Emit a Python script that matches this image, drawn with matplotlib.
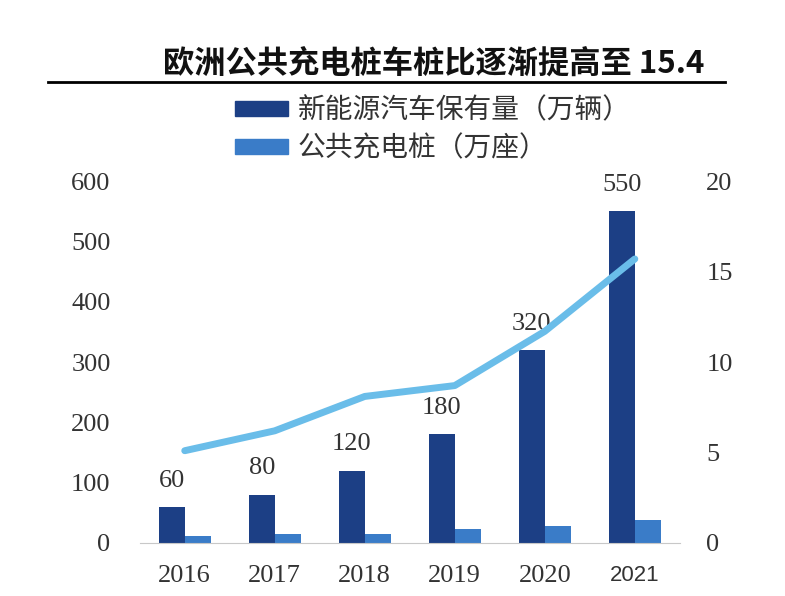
import matplotlib.pyplot as plt
from matplotlib.patches import Patch
from matplotlib.lines import Line2D
import numpy as np

# 数据
years = ['2016', '2017', '2018', '2019', '2020', '2021']
ev_stock = [60, 80, 120, 180, 320, 550]          # 新能源汽车保有量（万辆）
chargers = [12, 15, 15, 23, 28, 38]              # 公共充电桩（万座）
ratio = [5.1, 6.2, 8.1, 8.7, 11.7, 15.7]         # 车桩比

dark = '#1c3f85'
light = '#3a7cc8'
line_c = '#6abde9'
txt_c = '#333333'
serif = ['Liberation Serif', 'DejaVu Serif']
cjk = ['Noto Sans CJK SC', 'DejaVu Sans']

fig = plt.figure(figsize=(7.85, 5.96), dpi=100)
ax = fig.add_axes([0.178, 0.089, 0.688, 0.607])

x = np.arange(len(years))
w = 0.29
ax.bar(x - w / 2, ev_stock, w, color=dark, zorder=2)
ax.bar(x + w / 2, chargers, w, color=light, zorder=2)

for xi, v in zip(x, ev_stock):
    ax.annotate(str(v), (xi - w / 2, v), xytext=(0, 11), textcoords='offset points',
                ha='center', va='bottom', fontsize=19, family=serif, color=txt_c)

ax.set_xlim(-0.5, len(years) - 0.5)
ax.set_ylim(0, 600)
ax.set_yticks(range(0, 601, 100))
ax.set_xticks(x)
ax.set_xticklabels(years)
for lab in ax.get_xticklabels():
    lab.set_family(serif)
    lab.set_fontsize(19)
    lab.set_color(txt_c)
last = ax.get_xticklabels()[-1]
last.set_family(['Liberation Sans', 'DejaVu Sans'])
last.set_fontsize(16)
for lab in ax.get_yticklabels():
    lab.set_family(serif)
    lab.set_fontsize(19)
    lab.set_color(txt_c)
ax.tick_params(axis='both', length=0)
ax.tick_params(axis='x', pad=16)
ax.tick_params(axis='y', pad=21)
for s in ['top', 'right', 'left']:
    ax.spines[s].set_visible(False)
ax.spines['bottom'].set_color('#c8c8c8')

ax2 = ax.twinx()
ax2.plot(x, ratio, color=line_c, linewidth=5, solid_capstyle='round', zorder=3)
ax2.set_ylim(0, 20)
ax2.set_yticks(range(0, 21, 5))
for lab in ax2.get_yticklabels():
    lab.set_family(serif)
    lab.set_fontsize(19)
    lab.set_color(txt_c)
ax2.tick_params(axis='y', length=0, pad=19)
for s in ax2.spines.values():
    s.set_visible(False)

# 图例
handles = [Patch(color=dark, label='新能源汽车保有量（万辆）'),
           Patch(color=light, label='公共充电桩（万座）')]
fig.legend(handles=handles, loc='upper left', bbox_to_anchor=(0.268, 0.882),
           frameon=False, prop={'family': cjk, 'size': 20}, labelcolor=txt_c,
           handlelength=1.9, handleheight=0.45, handletextpad=0.35, labelspacing=0.28)

# 标题
fig.text(0.208, 0.893, '欧洲公共充电桩车桩比逐渐提高至 15.4', ha='left', va='center',
         fontsize=22.5, fontweight='bold', family=cjk, color='#111111')
fig.add_artist(Line2D([0.061, 0.924], [0.862, 0.862], color='black', linewidth=2,
                      transform=fig.transFigure))

plt.savefig('out.png', dpi=100)
